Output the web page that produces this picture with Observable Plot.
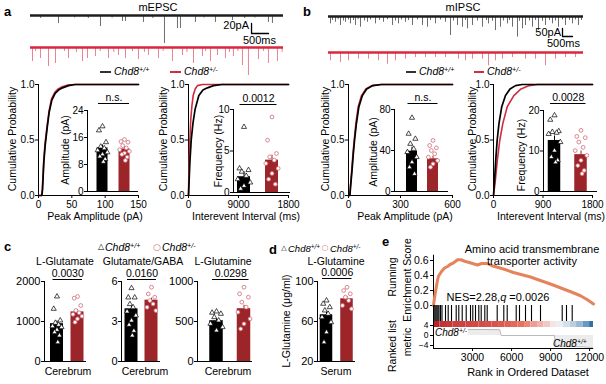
<!DOCTYPE html>
<html><head><meta charset="utf-8">
<script src="https://cdn.jsdelivr.net/npm/d3@7"></script>
<script src="https://cdn.jsdelivr.net/npm/@observablehq/plot@0.6"></script>
<style>
body{margin:0;background:#fff;}
#root{position:relative;width:606px;height:384px;overflow:hidden;background:#fff;font-family:"Liberation Sans",Arial,Helvetica,sans-serif;color:#000;}
.t{position:absolute;white-space:nowrap;line-height:1;font-size:10px;}
.sup{font-size:0.68em;position:relative;top:-0.45em;}
.seg{position:absolute;height:0;}
</style></head><body><div id="root"></div>
<script>
// ===================== DATA =====================
const genotypes = ["Chd8+/+", "Chd8+/-"];

// a: mEPSC example traces, events = [time (ms), amplitude (pA)]
const mepscDuration = 7440;
const mepscWT = [[300,6],[823,16],[1300,5],[1700,6],[2058,22],[2400,5],[2705,12],[2793,12],[3322,14],[3600,6],[3940,56],[4322,26],[4410,26],[4851,14],[5100,5],[5439,14],[5939,10],[6300,6],[6600,5],[6997,14],[7115,16]];
const mepscHet = [[59,28],[150,8],[294,22],[529,38],[735,32],[1000,8],[1117,22],[1350,10],[1529,28],[1676,22],[1911,18],[2050,8],[2293,22],[2450,10],[2587,16],[2793,22],[3000,8],[3175,24],[3350,10],[3469,16],[3763,22],[3900,8],[4175,28],[4469,16],[4600,10],[4793,32],[5057,18],[5150,8],[5292,28],[5498,16],[5733,22],[5850,10],[5968,18],[6100,8],[6233,36],[6409,56],[6703,24],[6850,8],[6997,32],[7262,28],[7400,10]];

// b: mIPSC example traces
const mipscDuration = 12750;
const mipscWT = [[100,46],[200,25],[350,36],[480,20],[600,56],[750,28],[850,36],[1000,22],[1100,46],[1250,25],[1350,56],[1480,20],[1600,67],[1800,28],[1950,36],[2100,22],[2350,46],[2550,25],[2750,36],[2950,20],[3200,56],[3350,28],[3500,46],[3650,22],[3850,36],[4000,25],[4200,56],[4450,22],[4700,56],[4950,67],[5100,25],[5350,46],[5600,22],[5850,36],[6100,119],[6250,28],[6450,56],[6700,67],[6850,25],[6950,77],[7200,56],[7450,28],[7700,67],[7900,25],[8000,46],[8200,30],[8350,88],[8600,67],[8750,28],[8950,46],[9050,25],[9200,67],[9450,129],[9550,30],[9700,77],[9850,56],[10050,28],[10200,67],[10350,25],[10500,88],[10700,30],[10850,56],[11050,25],[11200,46],[11350,28],[11500,67],[11700,22],[11850,56],[12050,25],[12200,46],[12350,22],[12500,56],[12650,25]];
const mipscHet = [[100,52],[600,63],[1000,52],[1500,42],[2000,42],[2500,52],[2950,73],[3350,52],[3850,42],[4350,31],[4850,31],[5350,31],[5850,31],[6500,42],[6850,52],[7200,42],[7700,42],[8000,83],[8350,52],[8700,42],[9200,31],[9850,42],[10350,42],[10850,83],[11350,42],[11850,31],[12350,31]];

// cumulative distributions [x, cumulative probability]
const ampA_wt  = [[0,0],[5,0],[6,0.05],[8,0.3],[10,0.45],[13,0.61],[16,0.75],[20,0.86],[25,0.92],[30,0.95],[36,0.97],[45,0.99],[55,1],[150,1]];
const ampA_het = [[0,0],[4.8,0],[5.8,0.06],[7.8,0.31],[9.8,0.47],[12.8,0.62],[15.8,0.76],[19.5,0.87],[24.5,0.93],[29.5,0.96],[35.5,0.98],[44,0.995],[54,1],[150,1]];
const iviA_wt  = [[0,0],[100,0.12],[250,0.3],[490,0.5],[800,0.65],[1200,0.78],[1860,0.9],[2600,0.95],[3400,0.97],[4500,0.99],[6000,1],[18000,1]];
const iviA_het = [[0,0],[50,0.15],[120,0.3],[240,0.5],[400,0.68],[600,0.8],[840,0.9],[1200,0.96],[1600,0.99],[2500,1],[18000,1]];
const ampB_wt  = [[0,0],[8,0],[12,0.08],[20,0.22],[28,0.38],[35,0.5],[45,0.64],[60,0.8],[80,0.9],[105,0.96],[140,0.99],[190,1],[600,1]];
const ampB_het = [[0,0],[7,0],[11,0.08],[18,0.22],[26,0.38],[33,0.5],[42,0.64],[56,0.8],[75,0.9],[100,0.96],[135,0.99],[185,1],[600,1]];
const iviB_wt  = [[0,0],[20,0.15],[45,0.35],[67,0.5],[100,0.65],[150,0.8],[218,0.9],[300,0.96],[400,0.99],[520,1],[1800,1]];
const iviB_het = [[0,0],[30,0.12],[70,0.32],[115,0.5],[170,0.65],[250,0.8],[370,0.9],[500,0.96],[650,0.99],[800,1],[1800,1]];

// inset bar data (individual values, means, sem, p)
const mepscAmpWT = [19.3,18.1,14.6,13.3,12.8,12.2,11.6,11,10.4,9.6,8.8];
const mepscAmpHet = [15.4,14.8,14.6,13.6,12.9,12.4,11.9,11.4,11,10.2,9.2];
const mepscFreqWT = [7.9,2.9,2.7,2.5,2.0,1.6,1.2,0.8,0.45];
const mepscFreqHet = [9.1,6.3,4.7,4.3,3.9,3.5,2.9,2.3,1.6,1.0];
const mipscAmpWT = [71.9,56.3,51.4,46.5,41.6,38.4,33.5,28.6,23.7,17.2];
const mipscAmpHet = [49.8,44.9,42.6,40,36.8,33.5,30.2,27,23.7];
const mipscFreqWT = [18.8,17.7,14.9,14.7,14.5,14.2,12.2,10.1,8.5,7.7,7.2];
const mipscFreqHet = [15.1,13.6,13.3,12.2,10.9,10.1,8.9,7.7,6.4,5.2,4.4];

// c / d metabolites
const gluWT = [1625,1317,1025,967,917,880,858,792,733,650,483];
const gluHet = [1625,1583,1400,1275,1217,1180,1133,1067,983];
const ratioWT = [5.5,4.8,4.8,4.3,4.07,3.75,3.45,3.07,2.75,2.3,1.95];
const ratioHet = [5.57,5.07,4.82,4.57,4.32,4.07,3.82];
const glnWT = [625,610,596,554,513,471,429,388];
const glnHet = [929,846,804,742,679,617,533,471,408];
const serumWT = [81,77.7,74.3,71,67.7,64.3,59.3,49.3,39.3];
const serumHet = [94.3,91,87.7,84.3,81,76,72.7];

// e: GSEA
const esCurve = [[0,0],[60,0.08],[150,0.18],[300,0.33],[380,0.39],[600,0.45],[850,0.5],[1080,0.52],[1300,0.55],[1460,0.56],[1700,0.59],[1850,0.61],[2100,0.61],[2400,0.59],[2610,0.58],[3000,0.56],[3380,0.54],[3700,0.56],[4150,0.56],[4500,0.53],[4920,0.51],[5500,0.48],[6150,0.44],[6800,0.41],[7460,0.38],[8100,0.34],[8770,0.3],[9400,0.26],[9990,0.22],[10600,0.18],[11300,0.13],[11800,0.08],[12300,0.02]];
const hitRanks = [38,115,192,269,346,423,538,653,923,1130,1384,1745,1945,2207,2514,2845,3021,3229,3483,3667,3944,4128,4897,5404,5666,6358,6611,7073,7534,8226,9894,10224,10663];
const metricBinStart = [0,500,1000,1500,2000,2500,3000,3500,4000,4500,5000,5500,6000,6500,7000,7500,8000,8500,9000,9500,10000,10500,11000,11500,12000];
const metricBinValue = [3.5,3.0,2.8,2.6,2.5,2.4,2.3,2.2,2.1,2.0,1.8,1.6,1.4,1.2,1.0,0.8,0.6,0.4,0.15,-0.2,-0.6,-1.0,-1.6,-2.4,-3.4];
const metricRank = [0,100,500,2000,4000,5100,5200,9300,9400,10000,11500,12200,12300];
const metricValue = [3.2,2.6,2.5,2.45,2.4,2.3,0,0,-4.2,-4.3,-4.5,-4.8,-5.2];
const rankTicks = [3000,6000,9000,12000];

// ===================== HELPERS =====================
const FONT = '"Liberation Sans", Arial, Helvetica, sans-serif';
const baseStyle = {fontFamily: FONT, fontSize: "10px", background: "transparent", overflow: "visible", color: "#000"};
const RED = "#cf2c3f", DARKRED = "#9b2528", PINK = "#cf6b78", ORANGE = "#e5845c";
const root = document.getElementById("root");

function place(svg, left, top) {
  svg.style.position = "absolute";
  svg.style.left = left + "px";
  svg.style.top = top + "px";
  svg.style.maxWidth = "none";
  root.appendChild(svg);
}
function txt(html, x, y, o = {}) {
  const d = document.createElement("div");
  d.className = "t";
  d.innerHTML = html;
  d.style.left = x + "px";
  d.style.top = y + "px";
  d.style.fontSize = (o.size || 10) + "px";
  if (o.bold) d.style.fontWeight = "bold";
  if (o.bg) { d.style.background = o.bg; d.style.padding = "0 1px"; }
  if (o.color) d.style.color = o.color;
  if (o.font) d.style.fontFamily = o.font;
  const a = o.anchor || "middle";
  const tx = a === "middle" ? "-50%" : a === "end" ? "-100%" : "0";
  d.style.transform = `translate(${tx},-50%)` + (o.rotate ? " rotate(-90deg)" : "");
  root.appendChild(d);
}
function seg(x1, x2, y, color, w) {
  const d = document.createElement("div");
  d.className = "seg";
  d.style.left = x1 + "px"; d.style.top = y + "px";
  d.style.width = (x2 - x1) + "px";
  d.style.borderTop = `${w}px solid ${color}`;
  root.appendChild(d);
}
const chd = g => `<i>Chd8<span class="sup">${g.slice(4)}</span></i>`;

function tracePlot(o) {
  const marks = [
    Plot.ruleX(o.events, {x: d => d[0], y1: 0, y2: d => -d[1], stroke: o.spike, strokeWidth: 1}),
    Plot.ruleY([0], {stroke: o.base, strokeWidth: 2.4})
  ];
  if (o.bar) {
    const b = o.bar;
    marks.push(Plot.line([[b.t, b.y], [b.t, b.y - b.amp], [b.t + b.dur, b.y - b.amp]],
      {x: d => d[0], y: d => d[1], stroke: "#000", strokeWidth: 1.3}));
  }
  const svg = Plot.plot({
    width: o.width, height: o.height, margin: 0,
    x: {domain: [0, o.duration], axis: null},
    y: {domain: o.yDomain, axis: null},
    style: baseStyle, marks
  });
  place(svg, o.left, o.top);
}

function cdfPlot(o) {
  const top = 74, bottom = 214;
  const left = o.axisX - 34;
  const right = o.rightX + 10;
  const width = right - left;
  const fmt = new Map(o.xTicks.map((t, i) => [t, o.xLabels[i]]));
  const svg = Plot.plot({
    width, height: bottom - top,
    marginLeft: o.axisX - left, marginRight: right - o.rightX,
    marginTop: 84 - top, marginBottom: bottom - 195,
    x: {domain: o.xDomain, ticks: o.xTicks, tickFormat: d => fmt.get(d), tickSize: 3, tickPadding: 2, label: null},
    y: {domain: [0, 1], ticks: [0, 0.5, 1], tickFormat: d3.format(".1f"), tickSize: 3, tickPadding: 1, label: null},
    style: baseStyle,
    marks: [
      Plot.ruleX([o.xDomain[0]]),
      Plot.ruleY([0]),
      Plot.line(o.het, {x: d => d[0], y: d => d[1], stroke: RED, strokeWidth: 1.6}),
      Plot.line(o.wt, {x: d => d[0], y: d => d[1], stroke: "#000", strokeWidth: 1.7})
    ]
  });
  place(svg, left, top);
}

const JIT = [0, -0.16, 0.16, -0.08, 0.08, -0.22, 0.22, 0, -0.12, 0.12, 0.04, -0.04];
function barPlot(o) {
  const ppu = o.c2 - o.c1;
  const x0 = -(o.c1 - o.axisX) / ppu, x1 = 1 + (o.rightX - o.c2) / ppu;
  const hw = o.barW / 2 / ppu;
  const left = o.axisX - 34, top = o.topY - 24;
  const width = o.rightX + 8 - left, height = o.bottomY + 4 - top;
  const [ymin, ymax] = o.yDomain;
  const pts = (vals, g) => vals.map((v, i) => ({x: g + JIT[i % JIT.length] * (o.jit || 1), y: v}));
  const svg = Plot.plot({
    width, height,
    marginLeft: o.axisX - left, marginRight: left + width - o.rightX,
    marginTop: o.topY - top, marginBottom: top + height - o.bottomY,
    x: {domain: [x0, x1], axis: null},
    y: {domain: o.yDomain, ticks: o.yTicks, tickFormat: d => String(d), tickSize: 3, tickPadding: 1, label: null},
    style: {...baseStyle, fontSize: (o.tickSize || 10) + "px"},
    marks: [
      Plot.rect([o.means[0]], {x1: -hw, x2: hw, y1: ymin, y2: d => d, fill: "#000"}),
      Plot.rect([o.means[1]], {x1: 1 - hw, x2: 1 + hw, y1: ymin, y2: d => d, fill: DARKRED}),
      Plot.ruleX([0], {y1: o.means[0], y2: o.means[0] + o.sems[0], stroke: "#000"}),
      Plot.ruleX([1], {y1: o.means[1], y2: o.means[1] + o.sems[1], stroke: DARKRED}),
      Plot.dot(pts(o.wt, 0), {x: "x", y: "y", symbol: "triangle", r: 1.9, stroke: "#000", fill: "#fff", strokeWidth: 0.7}),
      Plot.dot(pts(o.het, 1), {x: "x", y: "y", symbol: "circle", r: 1.9, stroke: PINK, fill: "#fff", strokeWidth: 0.8}),
      Plot.ruleX([x0]),
      Plot.ruleY([ymin]),
      Plot.ruleY([ymax], {x1: -4 / ppu, x2: 1 + 5 / ppu, dy: -o.sigGap}),
      Plot.text([o.sig], {x: 0.5 + 0.5 / ppu, y: ymax, dy: -o.sigGap - 6, text: d => d, fontSize: 10.5})
    ]
  });
  place(svg, left, top);
}

// ===================== PANEL a / b : traces =====================
tracePlot({events: mepscWT, duration: mepscDuration, left: 30, top: 8, width: 253, height: 38, yDomain: [-62, 14],
  base: "#1e1e1e", spike: "#6e6e6e", bar: {t: 6500, y: -16, amp: 20, dur: 500}});
tracePlot({events: mepscHet, duration: mepscDuration, left: 30, top: 40, width: 253, height: 38, yDomain: [-62, 14],
  base: "#d9283d", spike: "#e98393"});
tracePlot({events: mipscWT, duration: mipscDuration, left: 328, top: 10, width: 255, height: 30, yDomain: [-150, 37.5],
  base: "#1e1e1e", spike: "#6e6e6e", bar: {t: 11700, y: -75, amp: 50, dur: 500}});
tracePlot({events: mipscHet, duration: mipscDuration, left: 328, top: 46, width: 255, height: 24, yDomain: [-112.5, 37.5],
  base: "#d9283d", spike: "#e98393"});

// ===================== CDFs =====================
cdfPlot({axisX: 38, rightX: 138, xDomain: [0, 150], xTicks: [0, 50, 100, 150], xLabels: ["0", "50", "100", "150"], wt: ampA_wt, het: ampA_het});
cdfPlot({axisX: 188, rightX: 288, xDomain: [0, 18000], xTicks: [0, 9000, 18000], xLabels: ["0", "9000", "1800"], wt: iviA_wt, het: iviA_het});
cdfPlot({axisX: 348, rightX: 452, xDomain: [0, 600], xTicks: [0, 300, 600], xLabels: ["0", "300", "600"], wt: ampB_wt, het: ampB_het});
cdfPlot({axisX: 493, rightX: 592, xDomain: [0, 1800], xTicks: [0, 900, 1800], xLabels: ["0", "900", "1800"], wt: iviB_wt, het: iviB_het});

// insets
barPlot({axisX: 87, c1: 102, c2: 124, rightX: 138, barW: 11, topY: 110, bottomY: 191, yDomain: [0, 24], yTicks: [0, 8, 16, 24],
  wt: mepscAmpWT, het: mepscAmpHet, means: [12.9, 12.6], sems: [0.9, 0.6], sig: "n.s.", sigGap: 7});
barPlot({axisX: 233, c1: 243.5, c2: 271.5, rightX: 290, barW: 13, topY: 109, bottomY: 192, yDomain: [0, 10], yTicks: [0, 5, 10],
  wt: mepscFreqWT, het: mepscFreqHet, means: [1.9, 3.9], sems: [0.6, 0.6], sig: "0.0012", sigGap: 5});
barPlot({axisX: 394, c1: 411.5, c2: 432.5, rightX: 448, barW: 11, topY: 109, bottomY: 191, yDomain: [0, 80], yTicks: [0, 40, 80],
  wt: mipscAmpWT, het: mipscAmpHet, means: [39.3, 31.9], sems: [4, 2.5], sig: "n.s.", sigGap: 6});
barPlot({axisX: 543, c1: 554, c2: 580.5, rightX: 597, barW: 12.5, topY: 110, bottomY: 191, yDomain: [0, 20], yTicks: [0, 10, 20],
  wt: mipscFreqWT, het: mipscFreqHet, means: [12.6, 9.1], sems: [1.1, 0.9], sig: "0.0028", sigGap: 7});

// ===================== c / d =====================
barPlot({axisX: 44, c1: 56.5, c2: 77, rightX: 86, barW: 13, topY: 281, bottomY: 361, yDomain: [0, 2000], yTicks: [0, 1000, 2000],
  wt: gluWT, het: gluHet, means: [945, 1240], sems: [70, 55], sig: "0.0030", sigGap: 2, tickSize: 11});
barPlot({axisX: 121, c1: 131, c2: 151, rightX: 160, barW: 13, topY: 281, bottomY: 361, yDomain: [0, 6], yTicks: [0, 3, 6],
  wt: ratioWT, het: ratioHet, means: [3.95, 4.6], sems: [0.25, 0.15], sig: "0.0160", sigGap: 2, tickSize: 11});
barPlot({axisX: 197, c1: 216, c2: 243.5, rightX: 252, barW: 13.5, topY: 281, bottomY: 361, yDomain: [0, 1000], yTicks: [0, 500, 1000],
  wt: glnWT, het: glnHet, means: [510, 660], sems: [25, 45], sig: "0.0298", sigGap: 2, tickSize: 11});
barPlot({axisX: 317, c1: 326, c2: 346.5, rightX: 355, barW: 12.5, topY: 281, bottomY: 361, yDomain: [20, 100], yTicks: [20, 60, 100],
  wt: serumWT, het: serumHet, means: [66.7, 82.7], sems: [3.5, 2.2], sig: "0.0006", sigGap: 3, tickSize: 11});

// ===================== e : GSEA =====================
const eLeft = 380, eW = 226, eML = 53, eMR = 13, eDomain = [0, 12300];
place(Plot.plot({
  width: eW, height: 58, marginLeft: eML, marginRight: eMR, marginTop: 10, marginBottom: 3,
  x: {domain: eDomain, axis: null},
  y: {domain: [0, 0.6], ticks: [0, 0.2, 0.4, 0.6], tickFormat: d3.format(".1f"), tickSize: 3, tickPadding: 2, label: null},
  style: {...baseStyle, fontSize: "10.5px"},
  marks: [
    Plot.ruleX([0], {y1: 0, y2: 0.67}),
    Plot.line(esCurve, {x: d => d[0], y: d => d[1], stroke: ORANGE, strokeWidth: 3})
  ]
}), eLeft, 250);
place(Plot.plot({
  width: eW, height: 16, marginLeft: eML, marginRight: eMR, marginTop: 0, marginBottom: 0,
  x: {domain: eDomain, axis: null},
  style: baseStyle,
  marks: [Plot.ruleX(hitRanks, {x: d => d, stroke: "#000", strokeWidth: 1.1}), Plot.ruleX([0])]
}), eLeft, 305);
place(Plot.plot({
  width: eW, height: 6, marginLeft: eML, marginRight: eMR, marginTop: 0, marginBottom: 0,
  x: {domain: eDomain, axis: null},
  color: {type: "linear", domain: [-3.5, 0, 1.2, 3.5], range: ["#2a6ea6", "#f6f6f6", "#e8705f", "#b9202b"]},
  style: baseStyle,
  marks: [
    Plot.barX(metricBinStart.map((s, i) => ({s, e: metricBinStart[i + 1] ?? eDomain[1], v: metricBinValue[i]})),
      {x1: "s", x2: "e", fill: "v", inset: 0}),
    Plot.ruleX([0])
  ]
}), eLeft, 321);
const metricData = metricRank.map((r, i) => ({r, v: metricValue[i]}));
place(Plot.plot({
  width: eW, height: 30, marginLeft: eML, marginRight: eMR, marginTop: 3, marginBottom: 0,
  x: {domain: eDomain, axis: null},
  y: {domain: [-5.2, 5.6], ticks: [-4, 0, 4], tickFormat: d => d < 0 ? "−" + (-d) : String(d), tickSize: 3, tickPadding: 2, label: null},
  style: {...baseStyle, fontSize: "8.5px"},
  marks: [
    Plot.areaY(metricData, {x: "r", y: "v", fill: "#ececec"}),
    Plot.line(metricData, {x: "r", y: "v", stroke: "#aaa", strokeWidth: 0.8}),
    Plot.ruleX([0]),
    Plot.ruleY([-5.2])
  ]
}), eLeft, 318);
// rank axis (separate so its labels can be larger)
place(Plot.plot({
  width: eW, height: 22, marginLeft: eML, marginRight: eMR, marginTop: 0, marginBottom: 21,
  x: {domain: eDomain, ticks: rankTicks, tickFormat: d => String(d), tickSize: 3, tickPadding: 2, label: null},
  style: {...baseStyle, fontSize: "10.5px"},
  marks: []
}), eLeft, 347);

// ===================== TEXT =====================
// a
txt("a", 4, 11, {anchor: "start", bold: true, size: 13});
txt("mEPSC", 158, 7, {size: 11});
txt("20pA", 249, 25, {anchor: "end", size: 11});
txt("500ms", 243, 40, {anchor: "start", size: 11});
seg(100, 111, 71, "#333", 2); txt(chd(genotypes[0]), 114, 72, {anchor: "start", size: 10.5});
seg(170, 181, 71, RED, 2); txt(chd(genotypes[1]), 184, 72, {anchor: "start", size: 10.5});
// b
txt("b", 303, 11, {anchor: "start", bold: true, size: 13});
txt("mIPSC", 463, 7, {size: 11});
txt("50pA", 561, 32, {anchor: "end", size: 11});
txt("500ms", 547, 43, {anchor: "start", size: 11});
seg(406, 416, 71, "#333", 2); txt(chd(genotypes[0]), 419, 72, {anchor: "start", size: 10.5});
seg(474, 484, 71, RED, 2); txt(chd(genotypes[1]), 487, 72, {anchor: "start", size: 10.5});
// axis titles
[12, 163, 325, 472].forEach(x => txt("Cumulative Probability", x, 139, {rotate: true, size: 10.5}));
txt("Peak Amplitude (pA)", 95, 216, {size: 10.5});
txt("Interevent Interval (ms)", 246, 216, {size: 10.5});
txt("Peak Amplitude (pA)", 405, 216, {size: 10.5});
txt("Interevent Interval (ms)", 551, 216, {size: 10.5});
txt("Amplitude (pA)", 65, 150, {rotate: true, size: 10.5});
txt("Frequency (Hz)", 218, 151, {rotate: true, size: 10.5});
txt("Amplitude (pA)", 373, 152, {rotate: true, size: 10.5});
txt("Frequency (Hz)", 521, 155, {rotate: true, size: 10.5});
// c
txt("c", 4, 246, {anchor: "start", bold: true, size: 13});
txt("△", 101, 247, {size: 8, font: "DejaVu Sans"});
txt(chd(genotypes[0]), 105, 248, {anchor: "start", size: 10.5});
txt("○", 157, 247, {size: 9, font: "DejaVu Sans", color: PINK});
txt(chd(genotypes[1]), 162, 248, {anchor: "start", size: 10.5});
txt("L-Glutamate", 65, 261, {size: 10.5});
txt("Glutamate/GABA", 143, 261, {size: 10.5});
txt("L-Glutamine", 223, 261, {size: 10.5});
txt("Cerebrum", 68, 371, {size: 10.5});
txt("Cerebrum", 145, 371, {size: 10.5});
txt("Cerebrum", 228, 371, {size: 10.5});
// d
txt("d", 269, 249, {anchor: "start", bold: true, size: 13});
txt("△", 284, 248, {size: 7, font: "DejaVu Sans"});
txt(chd(genotypes[0]), 288, 249, {anchor: "start", size: 9.5});
txt("○", 325, 248, {size: 8, font: "DejaVu Sans", color: PINK});
txt(chd(genotypes[1]), 330, 249, {anchor: "start", size: 9.5});
txt("L-Glutamine", 336, 261, {size: 10.5});
txt("Serum", 336, 371, {size: 10.5});
txt("L-Glutamine (μg/ml)", 286, 321, {rotate: true, size: 10.5});
// e
txt("e", 382, 241, {anchor: "start", bold: true, size: 13});
txt("Amino acid transmembrane", 532, 249, {size: 11});
txt("transporter activity", 532, 261, {size: 11});
txt("Running", 392, 277, {rotate: true, size: 10.5});
txt("Enrichment Score", 407, 280, {rotate: true, size: 10.5});
txt("NES=2.28,<i>q</i> =0.0026", 498, 297, {size: 11});
txt("Ranked list", 392, 346, {rotate: true, size: 10.5});
txt("metric", 407, 342, {rotate: true, size: 10.5});
txt("Rank in Ordered Dataset", 528, 372, {size: 11});
txt(chd(genotypes[1]), 434, 333, {anchor: "start", size: 10, bg: "#fff"});
txt(chd(genotypes[0]), 553, 344, {anchor: "start", size: 10});
</script></body></html>
